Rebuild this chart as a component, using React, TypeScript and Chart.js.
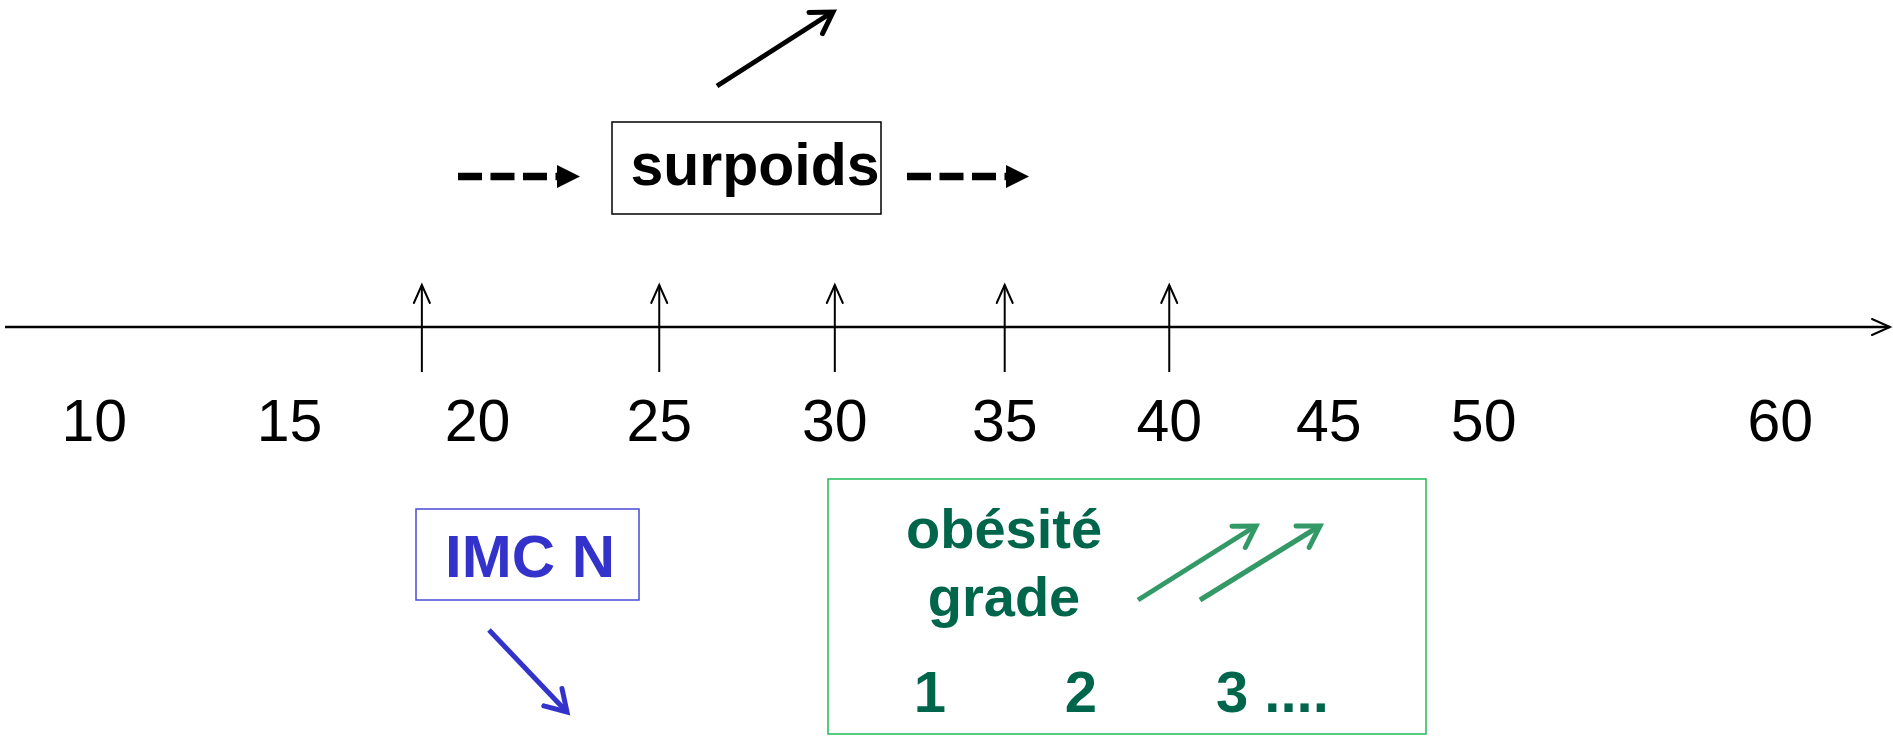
import React, { useEffect, useRef } from 'react';
import { Chart, registerables } from 'chart.js';

Chart.register(...registerables);

// ---- data ----
const tickValues = [10, 15, 20, 25, 30, 35, 40, 45, 50, 60];
const tickLabels = ['10', '15', '20', '25', '30', '35', '40', '45', '50', '60'];
const thresholds = [18.5, 25, 30, 35, 40];
const axisRange = [7.65, 63.95];
const surpoidsLabel = 'surpoids';
const normalLabel = 'IMC N';
const obesityLines = ['obésité', 'grade'];
const gradeLabels = ['1', '2', '3 ....'];

// the hand-drawn axis is slightly compressed towards high values
const AXIS_SHIFT = 122;
const axisValue = (bmi: number) => Math.log(bmi + AXIS_SHIFT);

const FONT = '"Liberation Sans", Arial, Helvetica, sans-serif';

function arrowHead(ctx: CanvasRenderingContext2D, x0: number, y0: number, x1: number, y1: number, len: number, ang: number) {
  const a = Math.atan2(y1 - y0, x1 - x0);
  ctx.beginPath();
  ctx.moveTo(x1 - len * Math.cos(a - ang), y1 - len * Math.sin(a - ang));
  ctx.lineTo(x1, y1);
  ctx.lineTo(x1 - len * Math.cos(a + ang), y1 - len * Math.sin(a + ang));
  ctx.stroke();
}

const diagramPlugin = {
  id: 'imcDiagram',
  afterDraw(chart: any) {
    const ctx: CanvasRenderingContext2D = chart.ctx;
    const xs = chart.scales.x;
    const xd = chart.scales.xd;
    const ys = chart.scales.y;
    const X = (v: number) => xd.getPixelForValue(v);
    const Y = (v: number) => ys.getPixelForValue(v);
    const BX = (bmi: number) => xs.getPixelForValue(axisValue(bmi));
    ctx.save();

    // main axis
    ctx.strokeStyle = '#000';
    ctx.lineWidth = 2.5;
    ctx.lineCap = 'butt';
    ctx.beginPath();
    ctx.moveTo(BX(axisRange[0]) + 5, Y(327));
    ctx.lineTo(BX(axisRange[1]) - 3, Y(327));
    ctx.stroke();
    const xe = BX(axisRange[1]) - 3;
    ctx.lineWidth = 2;
    ctx.lineCap = 'round';
    ctx.beginPath();
    ctx.moveTo(xe - 18, Y(319));
    ctx.lineTo(xe, Y(327));
    ctx.lineTo(xe - 18, Y(335));
    ctx.stroke();

    // threshold arrows
    ctx.lineWidth = 2;
    thresholds.forEach((t) => {
      const x = BX(t);
      ctx.lineCap = 'butt';
      ctx.beginPath();
      ctx.moveTo(x, Y(372));
      ctx.lineTo(x, Y(285));
      ctx.stroke();
      ctx.lineCap = 'round';
      ctx.beginPath();
      ctx.moveTo(x - 8, Y(303));
      ctx.lineTo(x, Y(285));
      ctx.lineTo(x + 8, Y(303));
      ctx.stroke();
    });

    // tick labels
    ctx.fillStyle = '#000';
    ctx.font = `59px ${FONT}`;
    ctx.textAlign = 'center';
    ctx.textBaseline = 'alphabetic';
    tickLabels.forEach((lab, i) => {
      ctx.fillText(lab, BX(tickValues[i]), Y(441));
    });

    // surpoids box
    ctx.lineWidth = 1.5;
    ctx.strokeStyle = '#000';
    ctx.strokeRect(X(612), Y(122), X(881) - X(612), Y(214) - Y(122));
    ctx.font = `bold 59px ${FONT}`;
    ctx.fillText(surpoidsLabel, X(755), Y(185));

    // dashed arrows
    const dashed = (x0: number, x1: number, y: number) => {
      ctx.save();
      ctx.lineWidth = 7.5;
      ctx.lineCap = 'butt';
      ctx.setLineDash([24, 8.5]);
      ctx.beginPath();
      ctx.moveTo(X(x0), Y(y));
      ctx.lineTo(X(x1 - 22), Y(y));
      ctx.stroke();
      ctx.restore();
      ctx.beginPath();
      ctx.moveTo(X(x1 - 23), Y(y - 11.5));
      ctx.lineTo(X(x1), Y(y));
      ctx.lineTo(X(x1 - 23), Y(y + 11.5));
      ctx.closePath();
      ctx.fill();
    };
    dashed(458, 580, 176.5);
    dashed(907, 1029, 176.5);

    // diagonal black arrow
    ctx.lineWidth = 5;
    ctx.lineCap = 'butt';
    ctx.beginPath();
    ctx.moveTo(X(717), Y(86));
    ctx.lineTo(X(831), Y(13));
    ctx.stroke();
    ctx.lineCap = 'round';
    arrowHead(ctx, X(717), Y(86), X(833), Y(12), 24, 0.55);

    // IMC N box
    ctx.strokeStyle = '#4a4ad6';
    ctx.lineWidth = 1.5;
    ctx.strokeRect(X(416), Y(509), X(639) - X(416), Y(600) - Y(509));
    ctx.fillStyle = '#3333cc';
    ctx.font = `bold 60px ${FONT}`;
    ctx.textAlign = 'center';
    ctx.fillText(normalLabel, X(530), Y(577));
    ctx.strokeStyle = '#3333cc';
    ctx.lineWidth = 5;
    ctx.lineCap = 'butt';
    ctx.beginPath();
    ctx.moveTo(X(489), Y(630));
    ctx.lineTo(X(565), Y(710));
    ctx.stroke();
    ctx.lineCap = 'round';
    arrowHead(ctx, X(489), Y(630), X(567), Y(712), 24, 0.55);

    // obesity box
    ctx.strokeStyle = '#22bb55';
    ctx.lineWidth = 1.5;
    ctx.strokeRect(X(828), Y(479), X(1426) - X(828), Y(734) - Y(479));
    ctx.fillStyle = '#00664b';
    ctx.font = `bold 56px ${FONT}`;
    ctx.textAlign = 'center';
    ctx.fillText(obesityLines[0], X(1004), Y(548));
    ctx.fillText(obesityLines[1], X(1004), Y(616));
    ctx.font = `bold 58px ${FONT}`;
    ctx.fillText(gradeLabels[0], X(930), Y(712));
    ctx.fillText(gradeLabels[1], X(1081), Y(712));
    ctx.textAlign = 'left';
    ctx.fillText(gradeLabels[2], X(1216), Y(712));

    // green arrows
    ctx.strokeStyle = '#339966';
    ctx.lineWidth = 5;
    [[1138, 600, 1256, 526], [1200, 600, 1320, 526]].forEach(([a, b, c, d]) => {
      ctx.lineCap = 'butt';
      ctx.beginPath();
      ctx.moveTo(X(a), Y(b));
      ctx.lineTo(X(c - 2), Y(d + 1));
      ctx.stroke();
      ctx.lineCap = 'round';
      arrowHead(ctx, X(a), Y(b), X(c), Y(d), 24, 0.55);
    });

    ctx.restore();
  },
};

export default function App() {
  const ref = useRef<HTMLCanvasElement | null>(null);
  useEffect(() => {
    if (!ref.current) return;
    const chart = new Chart(ref.current, {
      type: 'scatter',
      data: { datasets: [] },
      options: {
        animation: false,
        responsive: true,
        maintainAspectRatio: false,
        layout: { padding: 0 },
        plugins: { legend: { display: false }, tooltip: { enabled: false } },
        scales: {
          x: { type: 'linear', min: axisValue(axisRange[0]), max: axisValue(axisRange[1]), display: false },
          xd: { type: 'linear', axis: 'x', min: 0, max: 1893, display: false },
          y: { type: 'linear', min: 0, max: 736, reverse: true, display: false },
        },
      },
      plugins: [diagramPlugin],
    } as any);
    return () => chart.destroy();
  }, []);
  return (
    <div style={{ position: 'fixed', left: 0, top: 0, width: 1893, height: 736, background: '#fff' }}>
      <canvas ref={ref} />
    </div>
  );
}
